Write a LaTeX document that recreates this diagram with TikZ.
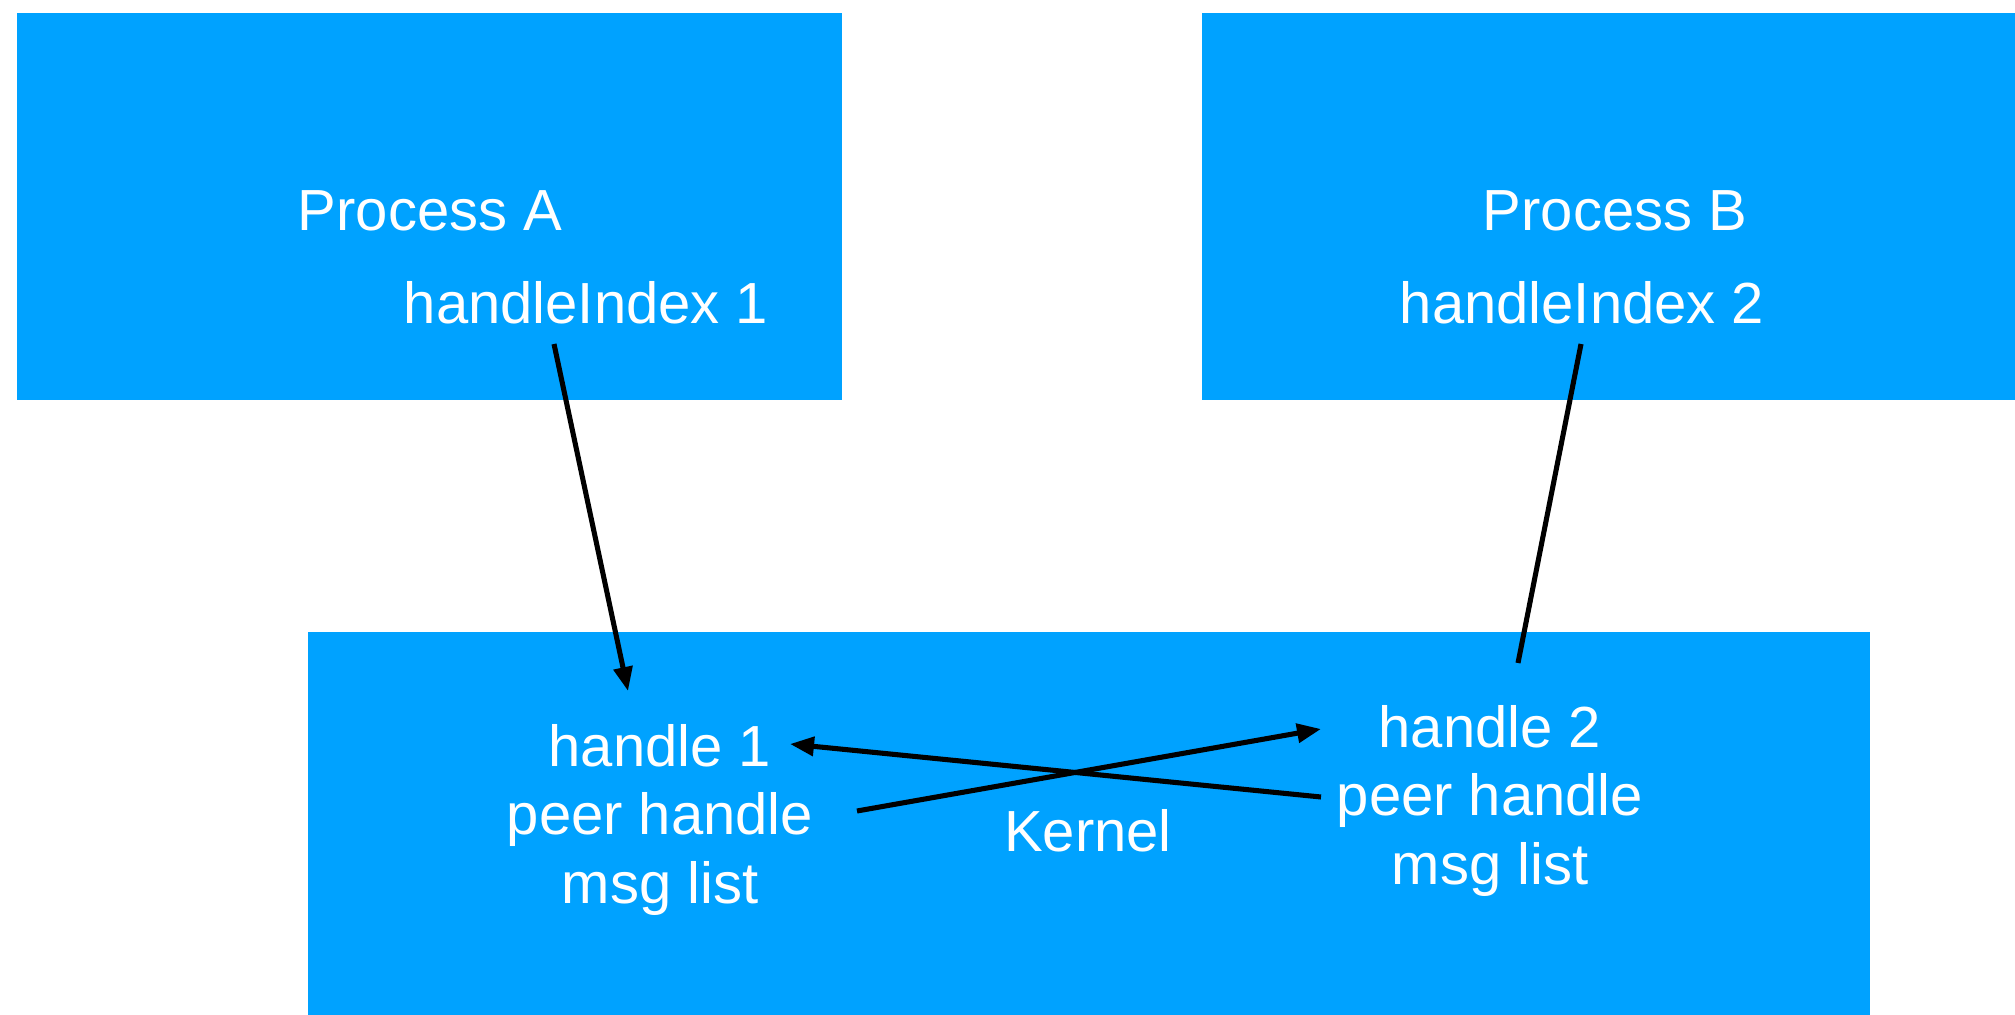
\documentclass[tikz,border=0pt]{standalone}
\usepackage{fontspec}
\setmainfont{Liberation Sans}
\usetikzlibrary{arrows.meta}
\definecolor{boxblue}{RGB}{0,162,255}
\begin{document}
\begin{tikzpicture}[x=0.375pt,y=-0.375pt,
  blk/.style={fill=boxblue,draw=none},
  lbl/.style={text=white,font=\fontsize{21.75}{25.6}\selectfont,inner sep=0pt,anchor=base,align=center},
  conn/.style={line width=1.9pt,black},
  arr/.style={conn,-{Triangle[length=9pt,width=7pt]}}]
\useasboundingbox (0,0) rectangle (2015,1015);
\fill[white] (0,0) rectangle (2015,1015);
% boxes
\path[blk] (17,13) rectangle (842,400);
\path[blk] (1202,13) rectangle (2015,400);
\path[blk] (308,632) rectangle (1870,1015);
% labels
\node[lbl] (pa) at (430,231) {Process A};
\node[lbl] (hia) at (586,324) {handleIndex 1};
\node[lbl] (pb) at (1615,231) {Process B};
\node[lbl] (hib) at (1582,324) {handleIndex 2};
\node[lbl] (h1) at (660,903) {handle 1\\peer handle\\msg list};
\node[lbl] (h2) at (1490,884) {handle 2\\peer handle\\msg list};
\node[lbl] (k) at (1088,851) {Kernel};
% connector end points
\coordinate (a1) at (554,344);
\coordinate (a2) at (628,691);
\coordinate (b1) at (1581,344);
\coordinate (b2) at (1518,663);
\coordinate (c1) at (857,811);
\coordinate (c2) at (1321,729);
\coordinate (d1) at (1321,797);
\coordinate (d2) at (790,744);
\draw[arr] (a1) -- (a2);
\draw[conn] (b1) -- (b2);
\draw[arr] (c1) -- (c2);
\draw[arr] (d1) -- (d2);
\end{tikzpicture}
\end{document}
